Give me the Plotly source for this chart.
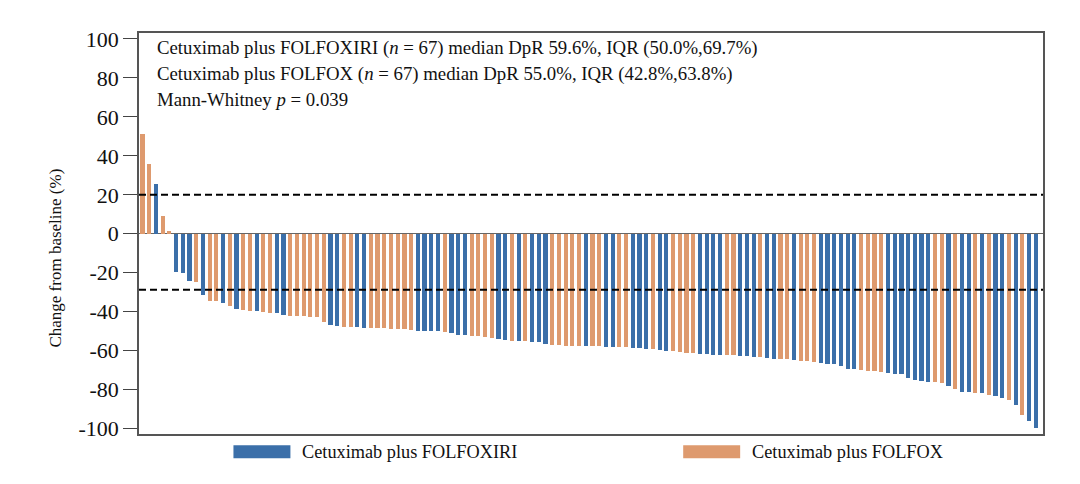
import plotly.graph_objects as go

# ---- data ----
change_pct = [51.1, 36.0, 25.8, 9.2, 1.4, -19.8, -20.3, -24.2, -24.6, -31.5,
              -34.3, -34.5, -35.3, -37.0, -38.7, -39.1, -39.4, -39.6, -40.2, -40.8,
              -40.8, -41.6, -42.0, -42.1, -42.3, -42.5, -42.8, -45.2, -46.8, -47.1,
              -47.6, -47.8, -47.9, -48.1, -48.3, -48.3, -48.4, -48.6, -48.8, -49.0,
              -49.2, -49.7, -49.8, -49.9, -50.0, -50.2, -51.0, -51.7, -52.0, -52.2,
              -52.5, -52.9, -53.2, -53.8, -54.4, -54.8, -54.8, -54.9, -55.3, -55.5,
              -56.6, -57.0, -57.2, -57.3, -57.3, -57.5, -57.7, -57.7, -57.8, -57.9,
              -58.0, -58.0, -58.1, -58.5, -58.7, -58.9, -59.1, -59.6, -60.1, -60.2,
              -60.6, -60.9, -61.2, -61.6, -61.8, -62.0, -62.1, -62.2, -62.3, -62.5,
              -62.6, -63.0, -63.1, -63.6, -64.0, -64.2, -64.3, -64.7, -65.2, -65.5,
              -65.8, -66.4, -66.7, -66.8, -67.6, -69.1, -69.4, -70.1, -70.3, -70.5,
              -70.7, -71.3, -71.7, -72.0, -74.2, -74.9, -75.4, -75.8, -76.1, -76.4,
              -78.0, -79.7, -80.9, -81.4, -81.6, -81.7, -82.6, -83.0, -84.2, -85.3,
              -87.7, -92.9, -96.2, -99.6]
arm_code = list("OOBOOBBBOBOOBOBOOBOOBBOOOOOOBBOOBBOOOOOOOBBBBOBBBOOOOBBOBOBBBOOOOOBOOBBOOBBBOBBOOOOBBBBOOBBBOBBOOBOOOBBBBBBOOOOBBBBBBBOOBOBBOBOBBOBOBB")
arm_names = {"B": "Cetuximab plus FOLFOXIRI", "O": "Cetuximab plus FOLFOX"}
arm_colors = {"B": "#3B6FA9", "O": "#DE9A6E"}
ref_lines = [20, -28.7]
y_ticks = [100, 80, 60, 40, 20, 0, -20, -40, -60, -80, -100]
stats_lines = [
    "Cetuximab plus FOLFOXIRI (<i>n</i> = 67) median DpR 59.6%, IQR (50.0%,69.7%)",
    "Cetuximab plus FOLFOX (<i>n</i> = 67) median DpR 55.0%, IQR (42.8%,63.8%)",
    "Mann-Whitney <i>p</i> = 0.039",
]

# ---- layout geometry (page pixels; page body has an 8px margin) ----
OFF = 8
W, H = 1080 - OFF, 484 - OFF
L, R, T, B = 138.5 - OFF, 1043 - OFF, 32.5 - OFF, 434.3 - OFF
def px(x):
    return (x - OFF - L) / (R - L)
def py(y):
    return (B - (y - OFF)) / (B - T)

FONT = "Liberation Serif, Times New Roman, serif"

fig = go.Figure()
for code in ["B", "O"]:
    xs = [i for i, c in enumerate(arm_code) if c == code]
    ys = [change_pct[i] for i in xs]
    fig.add_trace(go.Bar(x=xs, y=ys, name=arm_names[code],
                         marker=dict(color=arm_colors[code], line=dict(width=0)),
                         width=0.62, showlegend=False))

shapes = []
for v in ref_lines:
    shapes.append(dict(type="line", xref="paper", yref="y", x0=0, x1=1, y0=v, y1=v,
                       line=dict(color="black", width=2, dash="7px,4px")))
# manual legend
legend_items = [("B", 233, 290, 300), ("O", 683, 740, 750)]
annotations = []
for code, x0, x1, tx in legend_items:
    shapes.append(dict(type="rect", xref="paper", yref="paper",
                       x0=px(x0), x1=px(x1), y0=py(458.5), y1=py(445.5),
                       fillcolor=arm_colors[code], line=dict(width=0)))
    annotations.append(dict(xref="paper", yref="paper", x=px(tx), y=py(452),
                            xanchor="left", yanchor="middle", showarrow=False,
                            text=arm_names[code],
                            font=dict(family=FONT, size=18.3, color="#111")))
for k, line in enumerate(stats_lines):
    annotations.append(dict(xref="paper", yref="paper", x=px(155), y=py(48 + 25.5 * k),
                            xanchor="left", yanchor="middle", showarrow=False,
                            text=line, font=dict(family=FONT, size=18.8, color="#111")))
annotations.append(dict(xref="paper", yref="paper", x=px(55), y=py(258),
                        xanchor="center", yanchor="middle", showarrow=False,
                        textangle=-90, text="Change from baseline (%)",
                        font=dict(family=FONT, size=17, color="#111")))

fig.update_layout(
    width=W, height=H,
    margin=dict(l=L, r=W - R, t=T, b=H - B, pad=0),
    paper_bgcolor="white", plot_bgcolor="white",
    bargap=0, barmode="overlay",
    shapes=shapes, annotations=annotations,
    font=dict(family=FONT, color="#111"),
)
fig.update_xaxes(range=[-0.52, 134.08], showticklabels=False, ticks="",
                 showgrid=False, zeroline=False, showline=True,
                 linecolor="#555", linewidth=1.5, mirror=True)
fig.update_yaxes(range=[-102.7, 103.0], tickvals=y_ticks,
                 ticktext=[str(v) for v in y_ticks],
                 ticks="outside", ticklen=14, tickwidth=1.3, tickcolor="#444",
                 tickfont=dict(family=FONT, size=22, color="#111"),
                 showgrid=False, zeroline=True, zerolinecolor="#666", zerolinewidth=1.2,
                 showline=True, linecolor="#555", linewidth=1.5, mirror=True)

fig.write_html("out.html")
